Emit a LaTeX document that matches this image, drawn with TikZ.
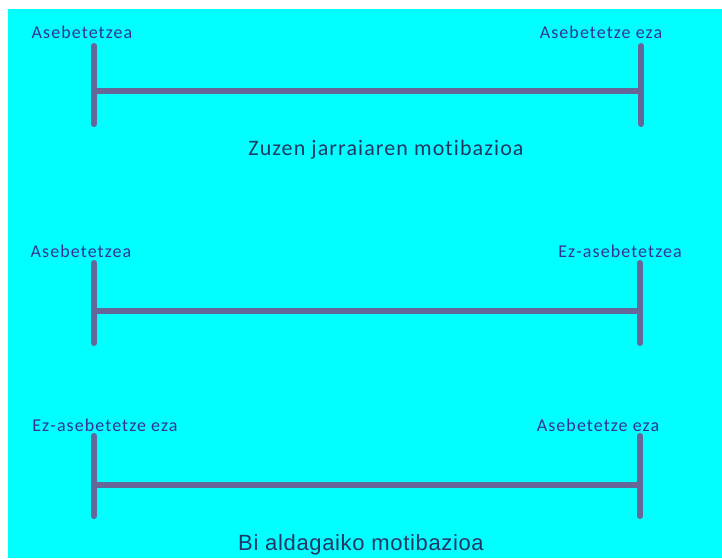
\documentclass[tikz,border=0pt]{standalone}
\usepackage{fontspec}
\setmainfont{Carlito}[Ligatures={NoCommon}]
\newfontfamily\biFont{Liberation Sans}

\definecolor{bgcyan}{HTML}{00FFFF}
\definecolor{barcol}{HTML}{666699}
\definecolor{labcol}{HTML}{333399}
\definecolor{capcol}{HTML}{203864}

\begin{document}
\begin{tikzpicture}[x=1pt, y=1pt,
    bar/.style={draw=barcol, line width=6pt, line cap=round},
    lab/.style={text=labcol, inner sep=0pt, font=\fontsize{18}{20}\selectfont\addfontfeature{LetterSpace=6}},
    caption/.style={text=capcol, inner sep=0pt}]
    % 背景
    \fill[white] (0, 0) rectangle (722, 558);
    \fill[bgcyan] (8, 0) rectangle (722, 549);
    \useasboundingbox (0, 0) rectangle (722, 558);

    % 一本目の軸
    \coordinate (A_top) at (94, 512);
    \coordinate (A_bot) at (94, 434);
    \coordinate (A_mid) at (94, 467);
    \coordinate (B_top) at (641, 512);
    \coordinate (B_bot) at (641, 434);
    \coordinate (B_mid) at (641, 467);

    % 二本目の軸
    \coordinate (C_top) at (94, 295);
    \coordinate (C_bot) at (94, 215);
    \coordinate (C_mid) at (94, 247);
    \coordinate (D_top) at (640, 295);
    \coordinate (D_bot) at (640, 215);
    \coordinate (D_mid) at (640, 247);

    % 三本目の軸
    \coordinate (E_top) at (94, 122);
    \coordinate (E_bot) at (94, 42);
    \coordinate (E_mid) at (94, 73);
    \coordinate (F_top) at (640, 122);
    \coordinate (F_bot) at (640, 42);
    \coordinate (F_mid) at (640, 73);

    \draw[bar] (A_mid) -- (B_mid);
    \draw[bar] (A_top) -- (A_bot);
    \draw[bar] (B_top) -- (B_bot);
    \draw[bar] (C_mid) -- (D_mid);
    \draw[bar] (C_top) -- (C_bot);
    \draw[bar] (D_top) -- (D_bot);
    \draw[bar] (E_mid) -- (F_mid);
    \draw[bar] (E_top) -- (E_bot);
    \draw[bar] (F_top) -- (F_bot);

    \node[lab] (A_label) at (82, 526) {Asebetetzea};
    \node[lab] (B_label) at (601, 526) {Asebetetze eza};
    \node[lab] (C_label) at (81, 307) {Asebetetzea};
    \node[lab] (D_label) at (620, 307) {Ez-asebetetzea};
    \node[lab] (E_label) at (105, 133) {Ez-asebetetze eza};
    \node[lab] (F_label) at (598, 133) {Asebetetze eza};

    \node[caption, font=\fontsize{22}{24}\selectfont\addfontfeature{LetterSpace=5}] (top_caption) at (386, 408) {Zuzen jarraiaren motibazioa};
    \node[caption, font=\biFont\fontsize{22}{24}\selectfont\addfontfeature{LetterSpace=3}] (bottom_caption) at (361, 13) {Bi aldagaiko motibazioa};

\end{tikzpicture}
\end{document}
